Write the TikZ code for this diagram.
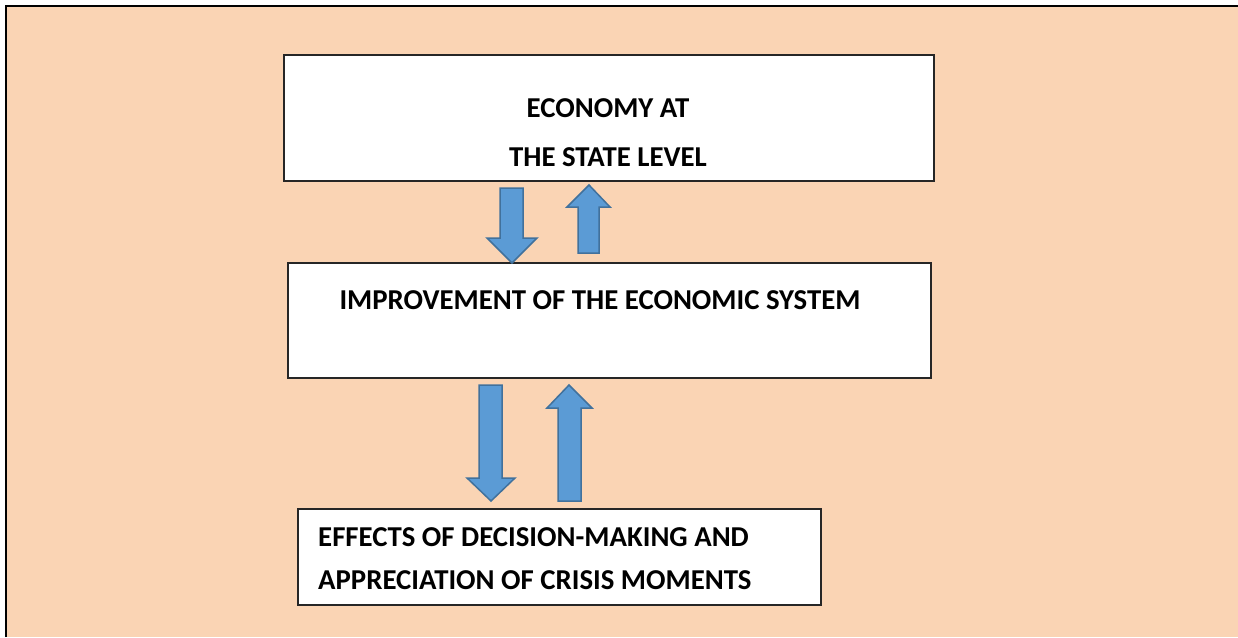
\documentclass[tikz,border=0pt]{standalone}
\usepackage{fontspec}
\setmainfont{Carlito}
\definecolor{bgpeach}{HTML}{FAD4B4}
\definecolor{arrfill}{HTML}{5B9BD5}
\definecolor{arrline}{HTML}{41719C}
\tikzset{
  whitebox/.style={draw=black!85, line width=1.5pt, fill=white},
  boxtext/.style={font=\fontsize{28.8}{42}\selectfont\bfseries, inner sep=0pt, anchor=base},
  blockarrow/.style={draw=arrline, fill=arrfill, line width=1.5pt, line join=miter}
}
\begin{document}
\begin{tikzpicture}[x=1pt,y=-1pt]
\useasboundingbox (0,0) rectangle (1238,637);
% background panel
\fill[bgpeach] (6,6) rectangle (1238,637);
\draw[line width=2pt] (6,637) -- (6,6) -- (1238,6);
% boxes
\node[whitebox, minimum width=650pt, minimum height=126pt, inner sep=0pt, anchor=north west] (b1) at (283,54) {};
\node[whitebox, minimum width=643pt, minimum height=115pt, inner sep=0pt, anchor=north west] (b2) at (287,262) {};
\node[whitebox, minimum width=523pt, minimum height=96pt, inner sep=0pt, anchor=north west] (b3) at (297,508) {};
% texts
\node[boxtext] (t1a) at (608,117) {ECONOMY AT};
\node[boxtext] (t1b) at (608,166) {THE STATE LEVEL};
\node[boxtext] (t2) at (600,309) {IMPROVEMENT OF THE ECONOMIC SYSTEM};
\node[boxtext, anchor=base west] (t3a) at (318,546) {EFFECTS OF DECISION-MAKING AND};
\node[boxtext, anchor=base west] (t3b) at (318,589) {APPRECIATION OF CRISIS MOMENTS};
% block arrows between b1 and b2
\draw[blockarrow] (500,188) -- (523,188) -- (523,238) -- (537,238) -- (512,263) -- (487,238) -- (500,238) -- cycle;
\draw[blockarrow] (589,185) -- (610,207) -- (599,207) -- (599,253) -- (578,253) -- (578,207) -- (567,207) -- cycle;
% block arrows between b2 and b3
\draw[blockarrow] (479,385) -- (502,385) -- (502,478) -- (515,478) -- (491,501) -- (467,478) -- (479,478) -- cycle;
\draw[blockarrow] (569,385) -- (592,408) -- (581,408) -- (581,501) -- (558,501) -- (558,408) -- (547,408) -- cycle;
\end{tikzpicture}
\end{document}
